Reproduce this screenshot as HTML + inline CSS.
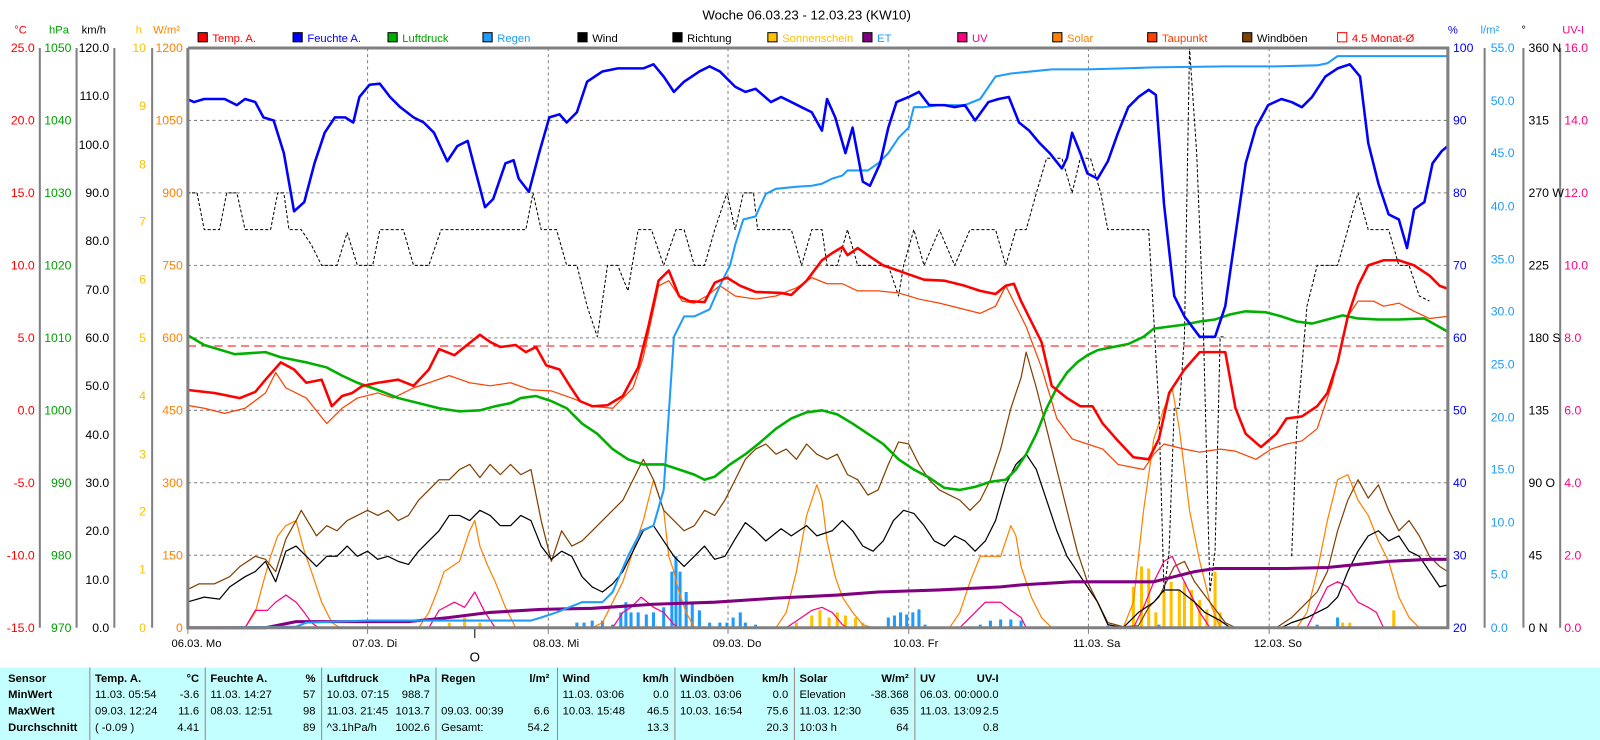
<!DOCTYPE html>
<html><head><meta charset="utf-8"><style>
html,body{margin:0;padding:0;background:#fff;width:1600px;height:740px;overflow:hidden}
svg{display:block;font-family:"Liberation Sans",sans-serif}
</style></head><body>
<svg width="1600" height="740" viewBox="0 0 1567 725" preserveAspectRatio="none" xmlns="http://www.w3.org/2000/svg">
<rect width="1567" height="725" fill="#fff"/>
<text x="790" y="19" font-size="13" text-anchor="middle" fill="#000">Woche 06.03.23 - 12.03.23 (KW10)</text>
<g font-size="11">
<rect x="194" y="32" width="9" height="9" fill="#f00" stroke="#000"/><text x="208" y="41" fill="#f00">Temp. A.</text>
<rect x="287" y="32" width="9" height="9" fill="#00f" stroke="#000"/><text x="301" y="41" fill="#00f">Feuchte A.</text>
<rect x="380" y="32" width="9" height="9" fill="#00b000" stroke="#000"/><text x="394" y="41" fill="#00a000">Luftdruck</text>
<rect x="473" y="32" width="9" height="9" fill="#1e9bff" stroke="#000"/><text x="487" y="41" fill="#1e9bff">Regen</text>
<rect x="566" y="32" width="9" height="9" fill="#000" stroke="#000"/><text x="580" y="41" fill="#000">Wind</text>
<rect x="659" y="32" width="9" height="9" fill="#000" stroke="#000"/><text x="673" y="41" fill="#000">Richtung</text>
<rect x="752" y="32" width="9" height="9" fill="#ffc000" stroke="#000"/><text x="766" y="41" fill="#ffc000">Sonnenschein</text>
<rect x="845" y="32" width="9" height="9" fill="#800080" stroke="#000"/><text x="859" y="41" fill="#1e9bff">ET</text>
<rect x="938" y="32" width="9" height="9" fill="#ff0080" stroke="#000"/><text x="952" y="41" fill="#ff0080">UV</text>
<rect x="1031" y="32" width="9" height="9" fill="#ff8000" stroke="#000"/><text x="1045" y="41" fill="#ff8000">Solar</text>
<rect x="1124" y="32" width="9" height="9" fill="#ff4000" stroke="#000"/><text x="1138" y="41" fill="#ff4000">Taupunkt</text>
<rect x="1217" y="32" width="9" height="9" fill="#804000" stroke="#000"/><text x="1231" y="41" fill="#000">Windböen</text>
<rect x="1310" y="32" width="9" height="9" fill="#fff" stroke="#f00"/><text x="1324" y="41" fill="#f00">4.5 Monat-Ø</text>
</g>
<g stroke="#808080" stroke-dasharray="3,3" stroke-width="1">
<line x1="184" y1="118" x2="1418" y2="118"/><line x1="184" y1="189" x2="1418" y2="189"/><line x1="184" y1="260" x2="1418" y2="260"/><line x1="184" y1="331" x2="1418" y2="331"/><line x1="184" y1="402" x2="1418" y2="402"/><line x1="184" y1="473" x2="1418" y2="473"/><line x1="184" y1="544" x2="1418" y2="544"/>
<line x1="360" y1="47" x2="360" y2="615"/><line x1="537" y1="47" x2="537" y2="615"/><line x1="713" y1="47" x2="713" y2="615"/><line x1="890" y1="47" x2="890" y2="615"/><line x1="1066" y1="47" x2="1066" y2="615"/><line x1="1243" y1="47" x2="1243" y2="615"/>
</g>
<line x1="184" y1="339" x2="1418" y2="339" stroke="#f00" stroke-dasharray="8,5" stroke-width="1"/>
<g stroke="#808080" stroke-width="2"><line x1="39" y1="47" x2="39" y2="615"/><line x1="75" y1="47" x2="75" y2="615"/><line x1="112" y1="47" x2="112" y2="615"/><line x1="149" y1="47" x2="149" y2="615"/><line x1="1454" y1="47" x2="1454" y2="615"/><line x1="1492" y1="47" x2="1492" y2="615"/><line x1="1528" y1="47" x2="1528" y2="615"/></g>
<g font-size="12" text-anchor="end">
<g fill="#f00"><text x="34" y="51">25.0</text><text x="34" y="122">20.0</text><text x="34" y="193">15.0</text><text x="34" y="264">10.0</text><text x="34" y="335">5.0</text><text x="34" y="406">0.0</text><text x="34" y="477">-5.0</text><text x="34" y="548">-10.0</text><text x="34" y="619">-15.0</text></g>
<g fill="#00a000"><text x="70" y="51">1050</text><text x="70" y="122">1040</text><text x="70" y="193">1030</text><text x="70" y="264">1020</text><text x="70" y="335">1010</text><text x="70" y="406">1000</text><text x="70" y="477">990</text><text x="70" y="548">980</text><text x="70" y="619">970</text></g>
<g fill="#000"><text x="107" y="51">120.0</text><text x="107" y="98">110.0</text><text x="107" y="146">100.0</text><text x="107" y="193">90.0</text><text x="107" y="240">80.0</text><text x="107" y="288">70.0</text><text x="107" y="335">60.0</text><text x="107" y="382">50.0</text><text x="107" y="430">40.0</text><text x="107" y="477">30.0</text><text x="107" y="524">20.0</text><text x="107" y="572">10.0</text><text x="107" y="619">0.0</text></g>
<g fill="#ffc000"><text x="143" y="51">10</text><text x="143" y="108">9</text><text x="143" y="165">8</text><text x="143" y="221">7</text><text x="143" y="278">6</text><text x="143" y="335">5</text><text x="143" y="392">4</text><text x="143" y="449">3</text><text x="143" y="505">2</text><text x="143" y="562">1</text><text x="143" y="619">0</text></g>
<g fill="#ff8000"><text x="179" y="51">1200</text><text x="179" y="122">1050</text><text x="179" y="193">900</text><text x="179" y="264">750</text><text x="179" y="335">600</text><text x="179" y="406">450</text><text x="179" y="477">300</text><text x="179" y="548">150</text><text x="179" y="619">0</text></g>
</g>
<g font-size="12">
<g fill="#00f"><text x="1423" y="51">100</text><text x="1423" y="122">90</text><text x="1423" y="193">80</text><text x="1423" y="264">70</text><text x="1423" y="335">60</text><text x="1423" y="406">50</text><text x="1423" y="477">40</text><text x="1423" y="548">30</text><text x="1423" y="619">20</text></g>
<g fill="#1e9bff"><text x="1460" y="51">55.0</text><text x="1460" y="103">50.0</text><text x="1460" y="154">45.0</text><text x="1460" y="206">40.0</text><text x="1460" y="258">35.0</text><text x="1460" y="309">30.0</text><text x="1460" y="361">25.0</text><text x="1460" y="413">20.0</text><text x="1460" y="464">15.0</text><text x="1460" y="516">10.0</text><text x="1460" y="567">5.0</text><text x="1460" y="619">0.0</text></g>
<g fill="#000"><text x="1497" y="51">360 N</text><text x="1497" y="122">315</text><text x="1497" y="193">270 W</text><text x="1497" y="264">225</text><text x="1497" y="335">180 S</text><text x="1497" y="406">135</text><text x="1497" y="477">90 O</text><text x="1497" y="548">45</text><text x="1497" y="619">0 N</text></g>
<g fill="#ff0080"><text x="1532" y="51">16.0</text><text x="1532" y="122">14.0</text><text x="1532" y="193">12.0</text><text x="1532" y="264">10.0</text><text x="1532" y="335">8.0</text><text x="1532" y="406">6.0</text><text x="1532" y="477">4.0</text><text x="1532" y="548">2.0</text><text x="1532" y="619">0.0</text></g>
</g>
<g font-size="11">
<text x="14" y="33" fill="#f00">°C</text><text x="48" y="33" fill="#00a000">hPa</text><text x="80" y="33" fill="#000">km/h</text><text x="133" y="33" fill="#ffc000">h</text><text x="150" y="33" fill="#ff8000">W/m²</text>
<text x="1418" y="33" fill="#00f">%</text><text x="1450" y="33" fill="#1e9bff">l/m²</text><text x="1490" y="33" fill="#000">°</text><text x="1530" y="33" fill="#ff0080">UV-I</text>
</g>
<g font-size="11" fill="#000">
<text x="168" y="634">06.03.  Mo</text><text x="345" y="634">07.03.  Di</text><text x="522" y="634">08.03.  Mi</text><text x="698" y="634">09.03.  Do</text><text x="875" y="634">10.03.  Fr</text><text x="1051" y="634">11.03.  Sa</text><text x="1228" y="634">12.03.  So</text>
<text x="465" y="648" font-size="13" text-anchor="middle">O</text>
</g>
<g stroke="#808080" stroke-width="1"><line x1="184" y1="615" x2="184" y2="621"/><line x1="360" y1="615" x2="360" y2="621"/><line x1="537" y1="615" x2="537" y2="621"/><line x1="713" y1="615" x2="713" y2="621"/><line x1="890" y1="615" x2="890" y2="621"/><line x1="1066" y1="615" x2="1066" y2="621"/><line x1="1243" y1="615" x2="1243" y2="621"/></g>
<line x1="465" y1="615" x2="465" y2="625" stroke="#000"/>
<g stroke="#ffc000" stroke-width="3">
<path d="M440 615V610M455 615V605M470 615V610M780 615V610M795 615V603M803 615V598M812 615V605M820 615V600M828 615V603M838 615V605M845 615V610M1110 615V575M1118 615V555M1125 615V557M1132 615V600M1140 615V580M1147 615V570M1155 615V578M1160 615V570M1167 615V578M1175 615V588M1182 615V597M1190 615V560M1195 615V600M1315 615V610M1322 615V610M1365 615V598"/>
</g>
<g stroke="#1e9bff" stroke-width="3">
<path d="M565 615V610M572 615V610M580 615V608M590 615V608M600 615V612M608 615V600M613 615V590M618 615V600M625 615V600M633 615V602M640 615V600M650 615V595M658 615V560M662 615V545M666 615V560M672 615V580M678 615V590M685 615V598M695 615V610M705 615V610M712 615V610M718 615V605M725 615V600M730 615V610M740 615V612M870 615V605M876 615V603M882 615V600M888 615V602M894 615V600M900 615V597M906 615V612M960 615V612M970 615V608M980 615V607M990 615V607M1000 615V608M1085 615V613M1135 615V612M1290 615V612M1310 615V605"/>
</g>
<g fill="none" stroke-linejoin="round">
<polyline stroke="#ff8000" stroke-width="1.2" points="183,615 240,615 250,600 258,570 265,545 272,525 280,515 290,510 298,540 305,560 315,590 325,610 333,615 410,615 420,600 428,580 435,560 450,550 460,520 465,510 470,535 478,555 485,570 495,595 505,615 580,615 590,610 600,590 610,570 620,540 630,510 640,470 650,500 655,545 660,560 665,580 672,600 680,615 760,615 770,600 780,560 790,505 800,475 805,490 810,530 818,565 825,585 835,600 845,612 855,615 930,615 940,600 950,570 960,545 980,545 990,515 995,525 1000,555 1010,585 1020,605 1030,615 1100,615 1110,590 1120,500 1130,430 1140,400 1148,380 1155,420 1165,500 1175,550 1185,590 1195,615 1270,615 1280,600 1290,560 1300,510 1310,470 1320,465 1330,490 1340,505 1350,530 1360,550 1370,585 1380,605 1390,615 1418,615"/>
<polyline stroke="#ff0080" stroke-width="1.2" points="183,615 240,615 250,598 262,598 270,590 280,583 290,590 298,600 305,610 312,615 420,615 430,598 445,590 455,595 465,580 475,600 485,615 600,615 610,600 618,595 628,585 640,595 650,600 660,612 665,615 770,615 785,605 795,598 805,595 815,600 825,612 830,615 940,615 955,600 965,590 980,590 990,598 1000,605 1005,615 1110,615 1120,595 1130,570 1140,550 1148,545 1155,560 1165,580 1175,600 1185,615 1280,615 1290,595 1300,575 1310,570 1320,575 1330,590 1340,595 1348,600 1355,615 1418,615"/>
<polyline stroke="#804000" stroke-width="1.2" points="183,578 195,572 210,572 225,565 235,555 250,545 260,548 270,560 280,528 290,510 295,500 310,525 320,515 330,520 340,510 350,505 360,500 370,505 380,500 390,510 400,505 410,490 420,480 430,470 440,470 450,460 460,455 470,468 480,455 490,465 500,455 510,465 520,460 530,510 540,550 550,520 560,535 570,530 580,520 590,510 600,500 610,490 620,470 630,450 640,470 650,500 660,510 670,520 680,515 690,500 700,505 710,490 720,470 730,450 740,440 750,435 760,445 770,440 780,450 790,435 800,445 810,450 820,445 830,465 840,470 850,485 860,480 870,455 880,433 890,435 900,455 910,470 920,480 930,485 940,490 950,500 960,490 970,470 980,440 990,400 1000,370 1005,345 1015,380 1025,420 1035,460 1045,500 1055,540 1065,570 1075,590 1085,610 1100,614 1115,613 1125,595 1135,585 1150,555 1160,550 1170,570 1185,590 1200,610 1210,615 1250,615 1265,605 1280,590 1290,580 1300,560 1310,520 1320,490 1330,470 1340,488 1350,475 1360,500 1370,520 1380,510 1390,525 1400,545 1410,555 1418,560"/>
<polyline stroke="#000" stroke-width="1.2" points="183,590 200,585 215,587 225,575 240,565 250,560 260,550 270,570 280,540 290,535 300,545 310,555 320,545 330,545 340,535 350,545 360,540 370,548 380,545 390,550 400,553 410,540 420,530 430,520 440,505 450,505 460,510 470,500 480,505 490,515 500,515 510,505 520,510 530,535 540,548 550,540 560,545 570,565 580,575 590,580 600,572 610,560 620,540 630,520 640,515 650,530 660,545 670,555 680,545 690,535 700,548 710,545 720,528 730,512 740,520 750,530 765,518 775,525 790,515 800,525 815,520 825,510 835,520 845,535 855,540 865,530 875,510 885,500 895,503 905,515 915,530 925,535 935,525 945,530 955,540 965,530 975,510 985,475 995,455 1005,445 1015,460 1025,490 1035,520 1045,545 1055,560 1065,575 1075,590 1085,612 1100,615 1115,600 1130,590 1140,578 1155,578 1170,590 1180,600 1195,608 1205,615 1255,615 1265,610 1280,605 1290,600 1300,595 1310,585 1320,560 1330,540 1340,525 1350,520 1360,530 1370,525 1380,540 1390,545 1400,560 1410,575 1418,573"/>
<polyline stroke="#000" stroke-width="1" stroke-dasharray="3,2" points="183,189 193,189 200,225 215,225 222,189 232,189 240,225 265,225 272,189 278,189 283,225 295,225 305,240 315,260 330,260 340,228 350,260 365,260 372,225 395,225 405,260 420,260 432,225 515,225 522,189 530,225 545,225 555,260 565,260 575,300 585,330 595,260 605,260 615,285 625,225 638,225 650,260 662,225 670,225 680,260 690,260 700,225 712,189 720,225 728,189 738,189 742,225 775,225 785,260 795,225 805,225 810,260 820,260 830,225 840,260 870,260 880,290 885,260 895,225 905,260 920,225 935,260 950,225 975,225 985,260 995,225 1005,225 1015,189 1025,155 1040,155 1050,189 1058,155 1068,155 1078,189 1085,225 1125,225 1135,400 1140,580 1145,540 1150,400 1155,400 1160,330 1165,47 1172,150 1178,300 1185,580 1190,540 1195,330 1200,330"/>
<polyline stroke="#000" stroke-width="1" stroke-dasharray="3,2" points="1265,545 1270,420 1280,300 1290,260 1310,260 1320,225 1330,189 1340,225 1360,225 1370,260 1380,260 1390,290 1400,295"/>
<polyline stroke="#ff4000" stroke-width="1.2" points="183,397 200,400 220,405 240,400 260,385 270,365 280,380 300,390 320,415 335,400 350,390 370,385 385,390 405,380 420,375 440,368 460,375 480,378 500,375 520,382 540,383 560,390 580,398 600,400 620,380 630,350 645,280 655,275 668,295 680,297 692,290 705,280 720,290 740,293 760,290 780,282 795,272 810,278 825,278 840,285 860,285 880,287 900,293 920,297 940,302 960,307 975,300 985,280 995,300 1005,320 1020,360 1035,410 1050,430 1065,435 1080,440 1095,455 1110,458 1120,460 1130,445 1140,435 1160,440 1175,443 1195,440 1210,442 1230,450 1245,440 1260,435 1275,432 1290,420 1305,375 1320,310 1330,295 1345,295 1355,300 1370,297 1385,305 1400,312 1418,310"/>
<polyline stroke="#800080" stroke-width="3" points="183,615 260,615 290,609 400,609 440,605 480,600 530,597 580,596 640,592 700,590 760,586 820,583 860,580 920,578 980,575 1000,573 1050,570 1130,570 1150,565 1170,560 1190,557 1260,557 1300,556 1330,553 1360,550 1400,548 1418,548"/>
<polyline stroke="#1e9bff" stroke-width="2" points="183,615 290,614 300,610 360,608 520,608 530,605 545,600 570,590 590,590 600,580 615,545 628,520 640,515 650,480 660,330 670,310 680,310 695,303 705,280 715,260 720,240 728,215 740,212 750,190 760,185 780,183 795,182 805,180 815,175 825,172 830,167 850,167 860,160 870,150 880,135 890,125 895,105 905,105 920,103 945,103 960,97 975,75 990,72 1010,70 1030,68 1065,68 1100,67 1130,66 1200,65 1250,65 1290,64 1300,62 1310,55 1418,55"/>
<polyline stroke="#00b000" stroke-width="2.5" points="183,328 200,338 230,347 260,345 275,350 300,355 320,360 335,368 350,375 370,382 390,390 410,395 430,400 450,403 470,402 485,398 500,395 510,390 525,388 540,393 555,400 570,415 585,425 600,440 615,450 630,455 650,455 665,460 680,465 690,470 700,467 715,455 730,445 745,433 760,420 775,410 790,404 805,402 820,406 835,415 850,425 865,435 880,450 895,460 910,468 925,478 940,480 955,477 970,472 985,470 995,460 1005,445 1015,425 1025,400 1035,380 1045,365 1055,355 1065,348 1075,343 1090,340 1105,337 1120,330 1130,322 1145,320 1160,318 1175,315 1190,313 1205,308 1220,305 1240,306 1255,310 1270,315 1285,317 1300,313 1315,309 1330,312 1350,313 1370,313 1395,312 1418,325"/>
<polyline stroke="#f00" stroke-width="2.5" points="183,382 210,385 235,390 250,384 260,372 275,355 288,362 300,375 315,372 325,398 335,388 345,385 355,378 370,375 390,372 405,378 420,362 430,342 445,348 455,340 470,328 480,335 490,340 505,338 515,345 525,340 535,358 548,362 558,378 568,393 580,398 595,397 610,388 625,360 635,320 645,275 655,265 665,290 675,295 690,296 700,277 712,272 725,280 740,286 765,287 775,289 790,275 805,255 815,248 825,242 830,250 840,243 850,250 865,260 885,267 905,274 925,275 945,280 960,285 975,288 985,280 993,278 1000,295 1010,315 1020,335 1030,378 1045,390 1058,398 1070,398 1080,415 1095,432 1110,448 1125,450 1135,430 1145,385 1160,362 1175,345 1200,345 1210,400 1220,425 1235,438 1250,425 1260,410 1275,408 1290,398 1300,385 1310,355 1320,310 1330,280 1340,260 1355,255 1370,255 1385,260 1400,270 1410,280 1418,283"/>
<polyline stroke="#00f" stroke-width="2.5" points="183,97 190,100 200,97 220,97 232,103 240,97 250,100 258,115 268,118 278,150 288,207 298,198 308,160 318,130 328,115 338,115 346,120 352,95 362,83 372,82 382,95 392,105 405,115 415,120 425,130 438,158 448,143 458,138 465,165 475,203 483,195 495,160 503,157 508,175 518,188 528,150 538,115 548,112 555,120 565,110 575,80 590,70 605,67 630,67 640,63 650,75 660,90 670,80 685,70 695,65 705,70 720,85 730,90 740,87 755,100 765,95 775,100 785,105 795,110 805,128 810,97 818,115 828,150 835,125 845,178 852,182 862,160 870,125 878,100 890,95 900,90 910,103 925,103 935,105 945,103 955,118 968,100 978,97 988,95 998,120 1008,128 1018,140 1028,150 1040,165 1045,155 1050,130 1058,150 1065,170 1075,175 1085,158 1095,130 1105,105 1115,95 1125,88 1132,93 1140,200 1150,290 1160,310 1175,330 1190,330 1200,300 1210,230 1220,160 1230,125 1242,103 1255,97 1265,100 1275,105 1285,95 1298,75 1310,67 1322,63 1332,75 1340,140 1350,180 1360,210 1370,215 1378,243 1385,205 1395,198 1403,160 1412,148 1418,143"/>
</g>
<polyline points="184,47 184,615 1418,615 1418,47 184,47" fill="none" stroke="#808080" stroke-width="3"/>
<rect x="0" y="654" width="1567" height="71" fill="#c4ffff"/>
<g stroke="#a08080" stroke-width="1">
<line x1="88" y1="654" x2="88" y2="725"/><line x1="201" y1="654" x2="201" y2="725"/><line x1="315" y1="654" x2="315" y2="725"/><line x1="427" y1="654" x2="427" y2="725"/><line x1="546" y1="654" x2="546" y2="725"/><line x1="661" y1="654" x2="661" y2="725"/><line x1="778" y1="654" x2="778" y2="725"/><line x1="896" y1="654" x2="896" y2="725"/>
</g>
<g font-size="11" fill="#000">
<g font-weight="bold"><text x="8" y="668">Sensor</text><text x="8" y="684">MinWert</text><text x="8" y="700">MaxWert</text><text x="8" y="716">Durchschnitt</text>
<text x="93" y="668">Temp. A.</text><text x="195" y="668" text-anchor="end">°C</text>
<text x="206" y="668">Feuchte A.</text><text x="309" y="668" text-anchor="end">%</text>
<text x="320" y="668">Luftdruck</text><text x="421" y="668" text-anchor="end">hPa</text>
<text x="432" y="668">Regen</text><text x="538" y="668" text-anchor="end">l/m²</text>
<text x="551" y="668">Wind</text><text x="655" y="668" text-anchor="end">km/h</text>
<text x="666" y="668">Windböen</text><text x="772" y="668" text-anchor="end">km/h</text>
<text x="783" y="668">Solar</text><text x="890" y="668" text-anchor="end">W/m²</text>
<text x="901" y="668">UV</text><text x="978" y="668" text-anchor="end">UV-I</text></g>
<text x="93" y="684">11.03.  05:54</text><text x="195" y="684" text-anchor="end">-3.6</text>
<text x="93" y="700">09.03.  12:24</text><text x="195" y="700" text-anchor="end">11.6</text>
<text x="93" y="716">( -0.09 )</text><text x="195" y="716" text-anchor="end">4.41</text>
<text x="206" y="684">11.03.  14:27</text><text x="309" y="684" text-anchor="end">57</text>
<text x="206" y="700">08.03.  12:51</text><text x="309" y="700" text-anchor="end">98</text>
<text x="309" y="716" text-anchor="end">89</text>
<text x="320" y="684">10.03.  07:15</text><text x="421" y="684" text-anchor="end">988.7</text>
<text x="320" y="700">11.03.  21:45</text><text x="421" y="700" text-anchor="end">1013.7</text>
<text x="320" y="716">^3.1hPa/h</text><text x="421" y="716" text-anchor="end">1002.6</text>
<text x="432" y="700">09.03.  00:39</text><text x="538" y="700" text-anchor="end">6.6</text>
<text x="432" y="716">Gesamt:</text><text x="538" y="716" text-anchor="end">54.2</text>
<text x="551" y="684">11.03.  03:06</text><text x="655" y="684" text-anchor="end">0.0</text>
<text x="551" y="700">10.03.  15:48</text><text x="655" y="700" text-anchor="end">46.5</text>
<text x="655" y="716" text-anchor="end">13.3</text>
<text x="666" y="684">11.03.  03:06</text><text x="772" y="684" text-anchor="end">0.0</text>
<text x="666" y="700">10.03.  16:54</text><text x="772" y="700" text-anchor="end">75.6</text>
<text x="772" y="716" text-anchor="end">20.3</text>
<text x="783" y="684">Elevation</text><text x="890" y="684" text-anchor="end">-38.368</text>
<text x="783" y="700">11.03.  12:30</text><text x="890" y="700" text-anchor="end">635</text>
<text x="783" y="716">10:03 h</text><text x="890" y="716" text-anchor="end">64</text>
<text x="901" y="684">06.03.  00:00</text><text x="978" y="684" text-anchor="end">0.0</text>
<text x="901" y="700">11.03.  13:09</text><text x="978" y="700" text-anchor="end">2.5</text>
<text x="978" y="716" text-anchor="end">0.8</text>
</g>
</svg>
</body></html>
